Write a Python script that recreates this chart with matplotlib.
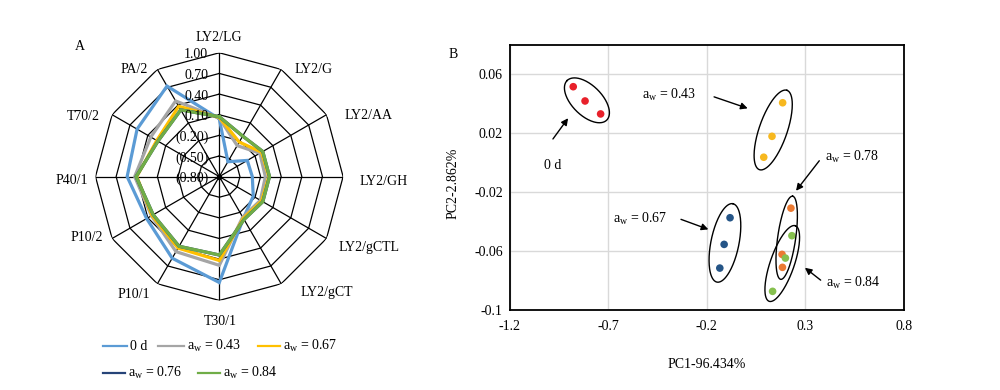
import numpy as np
import matplotlib
matplotlib.use("Agg")
import matplotlib.pyplot as plt
from matplotlib.lines import Line2D

plt.rcParams['font.family'] = ['Liberation Serif', 'DejaVu Serif']
plt.rcParams['mathtext.fontset'] = 'custom'
plt.rcParams['mathtext.rm'] = 'Liberation Serif'
plt.rcParams['mathtext.it'] = 'Liberation Serif:italic'
plt.rcParams['font.size'] = 10

# ---------------- Data: radar (panel A) ----------------
sensors = ['LY2/LG', 'LY2/G', 'LY2/AA', 'LY2/GH', 'LY2/gCTL', 'LY2/gCT',
           'T30/1', 'P10/1', 'P10/2', 'P40/1', 'T70/2', 'PA/2']
radar_names = ['0 d', 'a$_\\mathrm{w}$ = 0.43', 'a$_\\mathrm{w}$ = 0.67',
               'a$_\\mathrm{w}$ = 0.76', 'a$_\\mathrm{w}$ = 0.84']
d0_vals  = [0.04, -0.55, -0.33, -0.32, -0.23, -0.10, 0.74, 0.57, 0.42, 0.54, 0.58, 0.72]
a43_vals = [0.05, -0.28, -0.12, -0.13, -0.11, -0.12, 0.49, 0.46, 0.34, 0.43, 0.35, 0.47]
a67_vals = [0.06, -0.22, -0.09, -0.08, -0.09, -0.10, 0.42, 0.40, 0.33, 0.40, 0.25, 0.38]
a76_vals = [0.07, -0.12, -0.07, -0.07, -0.07, -0.08, 0.34, 0.37, 0.31, 0.41, 0.23, 0.32]
a84_vals = [0.07, -0.12, -0.07, -0.07, -0.07, -0.08, 0.34, 0.37, 0.31, 0.41, 0.23, 0.32]
radial_ticks = [-0.8, -0.5, -0.2, 0.1, 0.4, 0.7, 1.0]

# ---------------- Data: PCA (panel B) ----------------
pca_groups = ['0 d', 'a$_\\mathrm{w}$ = 0.43', 'a$_\\mathrm{w}$ = 0.67',
              'a$_\\mathrm{w}$ = 0.78', 'a$_\\mathrm{w}$ = 0.84']
pc1_0d  = [-0.878, -0.818, -0.739]
pc2_0d  = [0.0514, 0.0417, 0.0329]
pc1_a43 = [0.185, 0.131, 0.089]
pc2_a43 = [0.0405, 0.0177, 0.0035]
pc1_a67 = [-0.082, -0.112, -0.134]
pc2_a67 = [-0.0376, -0.0557, -0.0718]
pc1_a78 = [0.227, 0.182, 0.184]
pc2_a78 = [-0.0311, -0.0625, -0.0713]
pc1_a84 = [0.232, 0.199, 0.134]
pc2_a84 = [-0.0498, -0.0650, -0.0876]
x_ticks = [-1.2, -0.7, -0.2, 0.3, 0.8]
x_ticklabels = ['-1.2', '-0.7', '-0.2', '0.3', '0.8']
y_ticks = [-0.1, -0.06, -0.02, 0.02, 0.06]
y_ticklabels = ['-0.1', '-0.06', '-0.02', '0.02', '0.06']

# ---------------- Figure ----------------
W, H = 1000, 390
fig = plt.figure(figsize=(W / 100, H / 100), dpi=100)

def fx(px):
    return px / W

def fy(py):
    return 1 - py / H

# ---------- Panel A: radar ----------
cx, cy, R = 219.3, 176.6, 123.8
axA = fig.add_axes([fx(cx - R), fy(cy + R), 2 * R / W, 2 * R / H], projection='polar')
axA.set_theta_zero_location('N')
axA.set_theta_direction(-1)
axA.set_ylim(-0.8, 1.0)
axA.set_xticks([])
axA.set_yticks([])
axA.grid(False)
axA.spines['polar'].set_visible(False)
axA.patch.set_alpha(0)

n = len(sensors)
ang = np.arange(n) * 2 * np.pi / n
ang_c = np.append(ang, ang[0])
for lvl in radial_ticks[1:]:
    axA.plot(ang_c, [lvl] * (n + 1), color='black', lw=0.9, zorder=1)
for a in ang:
    axA.plot([a, a], [-0.8, 1.0], color='black', lw=0.9, zorder=1)
axA.plot([0], [-0.8], 'o', color='black', ms=3, zorder=1)

radar_series = [d0_vals, a43_vals, a67_vals, a76_vals, a84_vals]
radar_colors = ['#5B9BD5', '#A5A5A5', '#FFC000', '#264478', '#70AD47']
for vals, col in zip(radar_series, radar_colors):
    v = list(vals) + [vals[0]]
    axA.plot(ang_c, v, color=col, lw=2.3, zorder=3, solid_joinstyle='miter')

for lvl in radial_ticks:
    txt = f"{lvl:.2f}" if lvl >= 0 else f"({abs(lvl):.2f})"
    axA.annotate(txt, xy=(0, lvl), xytext=(-11, -2), textcoords='offset pixels',
                 ha='right', va='center', fontsize=10, zorder=5, annotation_clip=False)

lab_off = [(0, 15, 'center'), (13, 0, 'left'), (18, -1, 'left'), (16, -5, 'left'),
           (12, -9, 'left'), (19, -9, 'left'), (1, -21, 'center'), (-7, -11, 'right'),
           (-9, 1, 'right'), (-7, -4, 'right'), (-12, -2, 'right'), (-9, 0, 'right')]
for a, s, (dx, dy, ha) in zip(ang, sensors, lab_off):
    axA.annotate(s, xy=(a, 1.0), xytext=(dx, dy), textcoords='offset pixels',
                 ha=ha, va='center', fontsize=10, annotation_clip=False)

fig.text(fx(80), fy(46), 'A', ha='center', va='center', fontsize=10)

# legend (manual, Excel-like flow layout)
leg_layout = [(103, 127, 346), (103, 125, 372.5), (158, 184, 346), (198, 220, 372.5), (258, 280, 346)]
leg_order = [0, 3, 1, 4, 2]
for idx, (x0, x1, yy) in zip(leg_order, leg_layout):
    fig.add_artist(Line2D([fx(x0), fx(x1)], [fy(yy), fy(yy)], color=radar_colors[idx],
                          lw=1.6, transform=fig.transFigure))
    fig.text(fx(x1 + 3), fy(yy + 4), radar_names[idx], ha='left', va='baseline', fontsize=10)

# ---------- Panel B: PCA ----------
L, Rr, T, B = 509.8, 903.8, 44.6, 309.6
axB = fig.add_axes([fx(L), fy(B), (Rr - L) / W, (B - T) / H])
axB.set_xlim(-1.2, 0.8)
axB.set_ylim(-0.1, 0.08)
axB.set_xticks(x_ticks)
axB.set_xticklabels(x_ticklabels)
axB.set_yticks(y_ticks)
axB.set_yticklabels(y_ticklabels)
axB.tick_params(axis='both', length=0, labelsize=10)
axB.tick_params(axis='x', pad=7.5)
axB.tick_params(axis='y', pad=5)
axB.grid(True, color='#D9D9D9', lw=1.0)
axB.set_axisbelow(True)
for sp in axB.spines.values():
    sp.set_color('black')
    sp.set_linewidth(1.3)

pc1_all = [pc1_0d, pc1_a43, pc1_a67, pc1_a78, pc1_a84]
pc2_all = [pc2_0d, pc2_a43, pc2_a67, pc2_a78, pc2_a84]
pca_colors = ['#E8202A', '#F7B81F', '#255587', '#EB7A32', '#86C04E']
for xs, ys, col in zip(pc1_all, pc2_all, pca_colors):
    axB.scatter(xs, ys, s=30, color=col, edgecolors='none', zorder=3)

# ellipses around groups (semi-axes in pixels)
ell_ab = [(28, 15), (42, 14), (40, 14), (42, 9), (40, 12)]
fig.canvas.draw()
t = np.linspace(0, 2 * np.pi, 200)
for xs, ys, (ea, eb) in zip(pc1_all, pc2_all, ell_ab):
    pts = axB.transData.transform(np.column_stack([xs, ys]))
    order = np.argsort(pts[:, 1])
    p0, p1 = pts[order[0]], pts[order[-1]]
    c = (p0 + p1) / 2
    u = (p1 - p0) / np.linalg.norm(p1 - p0)
    v = np.array([-u[1], u[0]])
    ell = c + np.outer(ea * np.cos(t), u) + np.outer(eb * np.sin(t), v)
    ed = axB.transData.inverted().transform(ell)
    axB.plot(ed[:, 0], ed[:, 1], color='black', lw=1.0, zorder=4)

# annotations: text (left x, baseline y) and arrows (tail -> head)
ann_text_pos = [(-1.025, -0.0045), (-0.530, 0.0430), (-0.678, -0.0414), (0.400, 0.0011), (0.404, -0.0845)]
ann_tail = [(-0.981, 0.0159), (-0.163, 0.0445), (-0.331, -0.0387), (0.371, 0.0011), (0.378, -0.0800)]
ann_head = [(-0.904, 0.0300), (0.0076, 0.0367), (-0.192, -0.0455), (0.253, -0.0193), (0.298, -0.0716)]
for name, tp, ta, hd in zip(pca_groups, ann_text_pos, ann_tail, ann_head):
    axB.text(tp[0], tp[1], name, ha='left', va='baseline', fontsize=10, zorder=5)
    axB.annotate('', xy=hd, xytext=ta,
                 arrowprops=dict(arrowstyle='-|>', color='black', lw=1.0,
                                 mutation_scale=10, shrinkA=0, shrinkB=0), zorder=5)

fig.text(fx(706.5), fy(365), 'PC1-96.434%', ha='center', va='center', fontsize=10)
fig.text(fx(453), fy(183), 'PC2-2.862%', ha='center', va='center', rotation=90, fontsize=10)
fig.text(fx(453), fy(55), 'B', ha='center', va='center', fontsize=10)

fig.savefig('out.png', dpi=100)
